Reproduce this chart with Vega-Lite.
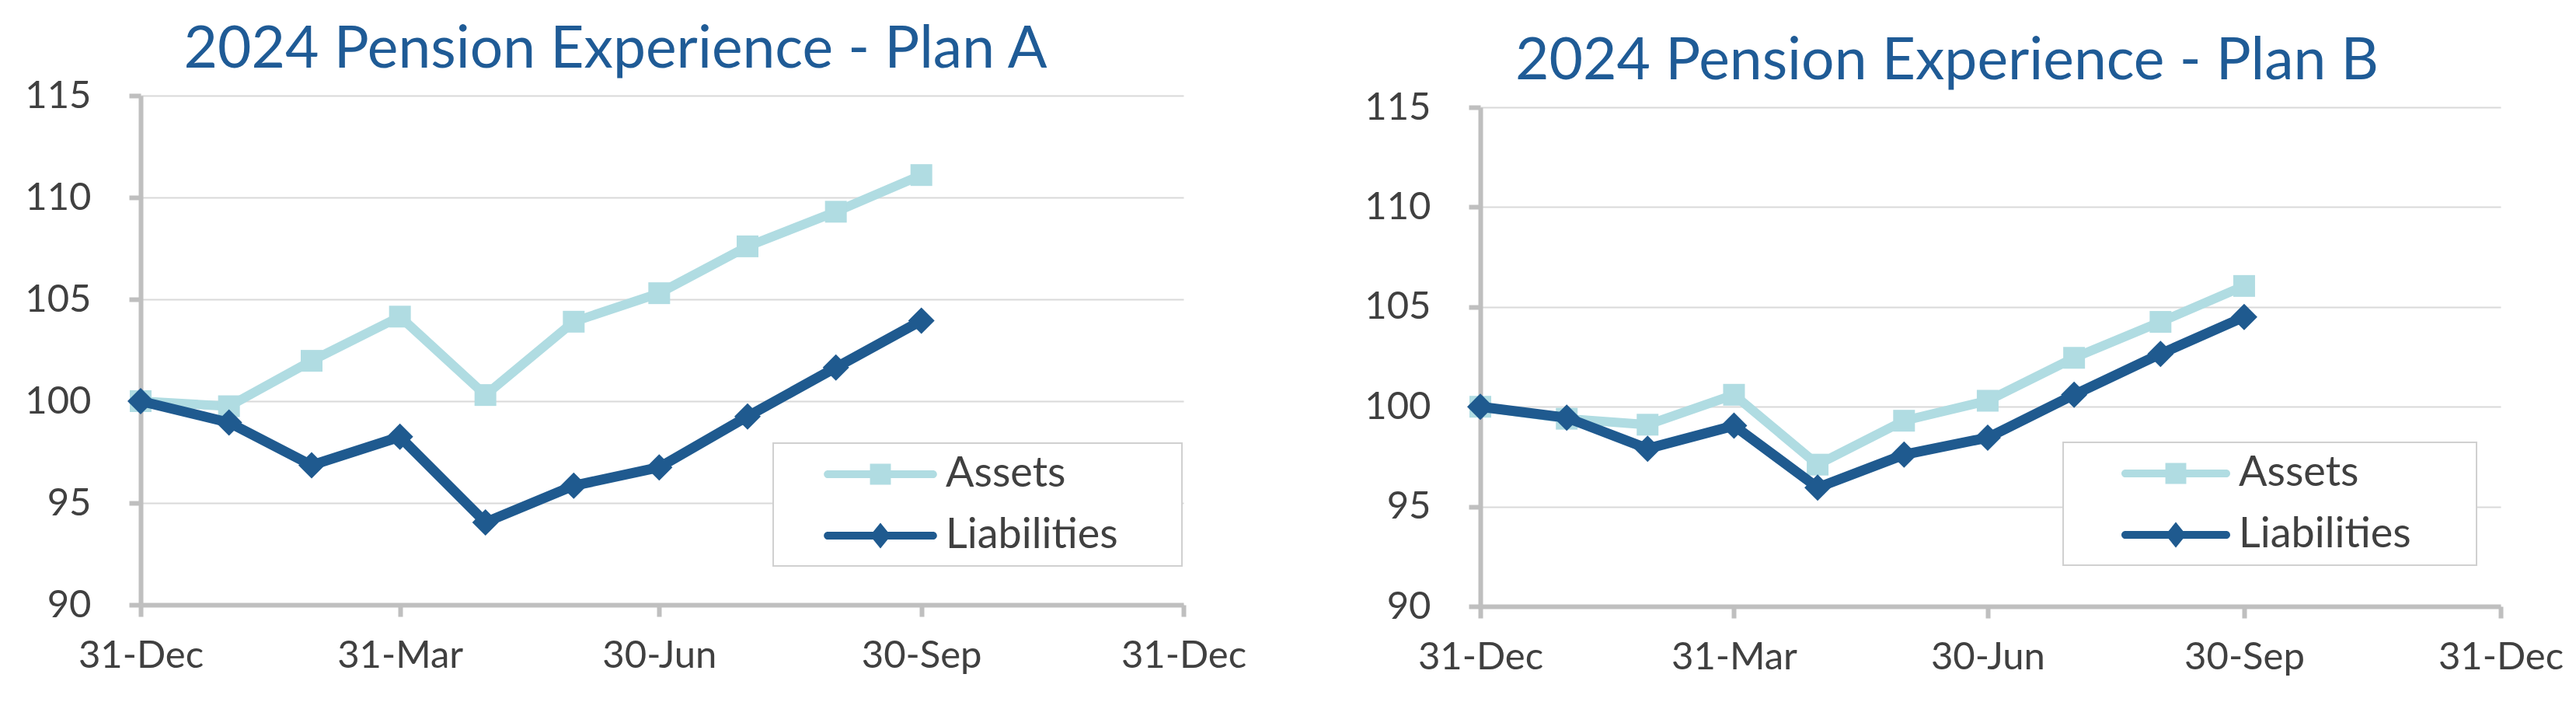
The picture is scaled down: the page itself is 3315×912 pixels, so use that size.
{
  "$schema": "https://vega.github.io/schema/vega-lite/v6.json",
  "background": "white",
  "padding": {"left": 31, "top": 27, "right": 0, "bottom": 0},
  "spacing": 151,
  "data": {"values": [
    {"plan": "A", "date": "2023-12-31", "series": "Assets", "value": 100},
    {"plan": "A", "date": "2024-01-31", "series": "Assets", "value": 99.75},
    {"plan": "A", "date": "2024-02-29", "series": "Assets", "value": 101.98},
    {"plan": "A", "date": "2024-03-31", "series": "Assets", "value": 104.15},
    {"plan": "A", "date": "2024-04-30", "series": "Assets", "value": 100.3},
    {"plan": "A", "date": "2024-05-31", "series": "Assets", "value": 103.9},
    {"plan": "A", "date": "2024-06-30", "series": "Assets", "value": 105.3},
    {"plan": "A", "date": "2024-07-31", "series": "Assets", "value": 107.6},
    {"plan": "A", "date": "2024-08-31", "series": "Assets", "value": 109.3},
    {"plan": "A", "date": "2024-09-30", "series": "Assets", "value": 111.1},
    {"plan": "A", "date": "2023-12-31", "series": "Liabilities", "value": 100},
    {"plan": "A", "date": "2024-01-31", "series": "Liabilities", "value": 98.95},
    {"plan": "A", "date": "2024-02-29", "series": "Liabilities", "value": 96.85},
    {"plan": "A", "date": "2024-03-31", "series": "Liabilities", "value": 98.25},
    {"plan": "A", "date": "2024-04-30", "series": "Liabilities", "value": 94.05},
    {"plan": "A", "date": "2024-05-31", "series": "Liabilities", "value": 95.85},
    {"plan": "A", "date": "2024-06-30", "series": "Liabilities", "value": 96.75},
    {"plan": "A", "date": "2024-07-31", "series": "Liabilities", "value": 99.25},
    {"plan": "A", "date": "2024-08-31", "series": "Liabilities", "value": 101.65},
    {"plan": "A", "date": "2024-09-30", "series": "Liabilities", "value": 103.95},
    {"plan": "B", "date": "2023-12-31", "series": "Assets", "value": 100},
    {"plan": "B", "date": "2024-01-31", "series": "Assets", "value": 99.4},
    {"plan": "B", "date": "2024-02-29", "series": "Assets", "value": 99.1},
    {"plan": "B", "date": "2024-03-31", "series": "Assets", "value": 100.6},
    {"plan": "B", "date": "2024-04-30", "series": "Assets", "value": 97.1},
    {"plan": "B", "date": "2024-05-31", "series": "Assets", "value": 99.3},
    {"plan": "B", "date": "2024-06-30", "series": "Assets", "value": 100.3},
    {"plan": "B", "date": "2024-07-31", "series": "Assets", "value": 102.45},
    {"plan": "B", "date": "2024-08-31", "series": "Assets", "value": 104.25},
    {"plan": "B", "date": "2024-09-30", "series": "Assets", "value": 106.05},
    {"plan": "B", "date": "2023-12-31", "series": "Liabilities", "value": 100},
    {"plan": "B", "date": "2024-01-31", "series": "Liabilities", "value": 99.45},
    {"plan": "B", "date": "2024-02-29", "series": "Liabilities", "value": 97.9},
    {"plan": "B", "date": "2024-03-31", "series": "Liabilities", "value": 99.05},
    {"plan": "B", "date": "2024-04-30", "series": "Liabilities", "value": 95.95},
    {"plan": "B", "date": "2024-05-31", "series": "Liabilities", "value": 97.6},
    {"plan": "B", "date": "2024-06-30", "series": "Liabilities", "value": 98.45},
    {"plan": "B", "date": "2024-07-31", "series": "Liabilities", "value": 100.6},
    {"plan": "B", "date": "2024-08-31", "series": "Liabilities", "value": 102.65},
    {"plan": "B", "date": "2024-09-30", "series": "Liabilities", "value": 104.5}
  ]},
  "resolve": {"scale": {"color": "independent", "x": "independent", "y": "independent"}, "legend": {"color": "independent"}},
  "hconcat": [
    {
      "title": {"text": "2024 Pension Experience - Plan A", "frame": "group", "anchor": "middle", "dx": -60, "offset": -63, "baseline": "alphabetic"},
      "width": 1342,
      "height": 655,
      "transform": [{"filter": "datum.plan === 'A'"}],
      "encoding": {
        "x": {"field": "date", "type": "temporal",
          "scale": {"type": "utc", "domain": [{"year": 2023, "month": 12, "date": 31, "utc": true}, {"year": 2024, "month": 12, "date": 31, "utc": true}]},
          "axis": {"values": [{"year": 2023, "month": 12, "date": 31, "utc": true}, {"year": 2024, "month": 3, "date": 31, "utc": true}, {"year": 2024, "month": 6, "date": 30, "utc": true}, {"year": 2024, "month": 9, "date": 30, "utc": true}, {"year": 2024, "month": 12, "date": 31, "utc": true}],
            "format": "%d-%b", "grid": false, "tickSize": 15, "labelPadding": 26, "labelOverlap": false, "labelFlush": false, "labelBound": false, "title": null}},
        "y": {"field": "value", "type": "quantitative",
          "scale": {"domain": [90, 115], "nice": false, "zero": false},
          "axis": {"values": [90, 95, 100, 105, 110, 115], "title": null, "grid": true, "tickSize": 15, "labelPadding": 49}}
      },
      "layer": [
        {"transform": [{"filter": "datum.series === 'Assets'"}],
          "mark": {"type": "line", "strokeWidth": 12},
          "encoding": {"color": {"field": "series", "type": "nominal",
            "scale": {"domain": ["Assets", "Liabilities"], "range": ["#B0DCE2", "#1F5A8F"]},
            "legend": {"orient": "none", "legendX": 814, "legendY": 447, "symbolOffset": 0, "labelOffset": 154,
              "encode": {
                "symbols": {"update": {
                  "shape": {"signal": "datum.value === 'Assets' ? 'M1.08,-0.18H5.92A0.18,0.18,0,0,1,5.92,0.18H1.08A0.18,0.18,0,0,1,1.08,-0.18Z M3.02,-0.48H3.98V0.48H3.02Z M16.9,0' : 'M1.08,-0.18H5.92A0.18,0.18,0,0,1,5.92,0.18H1.08A0.18,0.18,0,0,1,1.08,-0.18Z M3.5,-0.59L3.98,0L3.5,0.59L3.02,0Z M16.9,0'"},
                  "fill": {"signal": "datum.value === 'Assets' ? '#B0DCE2' : '#1F5A8F'"},
                  "fillOpacity": {"value": 1},
                  "stroke": {"value": "transparent"},
                  "strokeWidth": {"value": 0},
                  "opacity": {"value": 1},
                  "size": {"value": 3136}
                }},
                "legend": {"update": {"strokeWidth": {"value": 2}}}
              }}}}},
        {"transform": [{"filter": "datum.series === 'Assets'"}],
          "mark": {"type": "point", "shape": "square", "filled": true, "size": 784, "color": "#B0DCE2", "opacity": 1}},
        {"transform": [{"filter": "datum.series === 'Liabilities'"}],
          "mark": {"type": "line", "strokeWidth": 13},
          "encoding": {"color": {"field": "series", "type": "nominal",
            "scale": {"domain": ["Assets", "Liabilities"], "range": ["#B0DCE2", "#1F5A8F"]}}}},
        {"transform": [{"filter": "datum.series === 'Liabilities'"}],
          "mark": {"type": "point", "shape": "diamond", "filled": true, "size": 1156, "color": "#1F5A8F", "opacity": 1}}
      ]
    },
    {
      "title": {"text": "2024 Pension Experience - Plan B", "frame": "group", "anchor": "middle", "dx": -56, "offset": -63, "baseline": "alphabetic"},
      "width": 1313,
      "height": 657,
      "transform": [{"filter": "datum.plan === 'B'"}],
      "encoding": {
        "x": {"field": "date", "type": "temporal",
          "scale": {"type": "utc", "domain": [{"year": 2023, "month": 12, "date": 31, "utc": true}, {"year": 2024, "month": 12, "date": 31, "utc": true}]},
          "axis": {"values": [{"year": 2023, "month": 12, "date": 31, "utc": true}, {"year": 2024, "month": 3, "date": 31, "utc": true}, {"year": 2024, "month": 6, "date": 30, "utc": true}, {"year": 2024, "month": 9, "date": 30, "utc": true}, {"year": 2024, "month": 12, "date": 31, "utc": true}],
            "format": "%d-%b", "grid": false, "tickSize": 15, "labelPadding": 26, "labelOverlap": false, "labelFlush": false, "labelBound": false, "title": null}},
        "y": {"field": "value", "type": "quantitative",
          "scale": {"domain": [90, 115], "nice": false, "zero": false, "range": [657, 15]},
          "axis": {"values": [90, 95, 100, 105, 110, 115], "title": null, "grid": true, "tickSize": 15, "labelPadding": 49}}
      },
      "layer": [
        {"transform": [{"filter": "datum.series === 'Assets'"}],
          "mark": {"type": "line", "strokeWidth": 12},
          "encoding": {"color": {"field": "series", "type": "nominal",
            "scale": {"domain": ["Assets", "Liabilities"], "range": ["#B0DCE2", "#1F5A8F"]},
            "legend": {"orient": "none", "legendX": 750, "legendY": 446, "symbolOffset": 0, "labelOffset": 158,
              "encode": {
                "symbols": {"update": {
                  "shape": {"signal": "datum.value === 'Assets' ? 'M1.43,-0.18H6.07A0.18,0.18,0,0,1,6.07,0.18H1.43A0.18,0.18,0,0,1,1.43,-0.18Z M3.27,-0.48H4.23V0.48H3.27Z M17.14,0' : 'M1.43,-0.18H6.07A0.18,0.18,0,0,1,6.07,0.18H1.43A0.18,0.18,0,0,1,1.43,-0.18Z M3.75,-0.59L4.23,0L3.75,0.59L3.27,0Z M17.14,0'"},
                  "fill": {"signal": "datum.value === 'Assets' ? '#B0DCE2' : '#1F5A8F'"},
                  "fillOpacity": {"value": 1},
                  "stroke": {"value": "transparent"},
                  "strokeWidth": {"value": 0},
                  "opacity": {"value": 1},
                  "size": {"value": 3136}
                }},
                "legend": {"update": {"strokeWidth": {"value": 2}}}
              }}}}},
        {"transform": [{"filter": "datum.series === 'Assets'"}],
          "mark": {"type": "point", "shape": "square", "filled": true, "size": 784, "color": "#B0DCE2", "opacity": 1}},
        {"transform": [{"filter": "datum.series === 'Liabilities'"}],
          "mark": {"type": "line", "strokeWidth": 13},
          "encoding": {"color": {"field": "series", "type": "nominal",
            "scale": {"domain": ["Assets", "Liabilities"], "range": ["#B0DCE2", "#1F5A8F"]}}}},
        {"transform": [{"filter": "datum.series === 'Liabilities'"}],
          "mark": {"type": "point", "shape": "diamond", "filled": true, "size": 1156, "color": "#1F5A8F", "opacity": 1}}
      ]
    }
  ],
  "config": {
    "view": {"stroke": null},
    "font": "Lato",
    "title": {"font": "Lato", "fontSize": 75, "fontWeight": "normal", "color": "#1F5B96"},
    "axis": {"domainColor": "#BFBFBF", "domainWidth": 6, "tickColor": "#BFBFBF", "tickWidth": 6,
      "labelFont": "Lato", "labelFontSize": 49, "labelColor": "#404040", "gridColor": "#D9D9D9", "gridWidth": 2},
    "legend": {
      "title": null,
      "padding": 12,
      "rowPadding": 24,
      "labelFont": "Lato",
      "labelFontSize": 54,
      "labelColor": "#404040",
      "labelLimit": 0,
      "symbolSize": 3136,
      "symbolStrokeWidth": 0,
      "strokeColor": "#D0D0D0",
      "fillColor": "white",
      "cornerRadius": 0
    }
  }
}
